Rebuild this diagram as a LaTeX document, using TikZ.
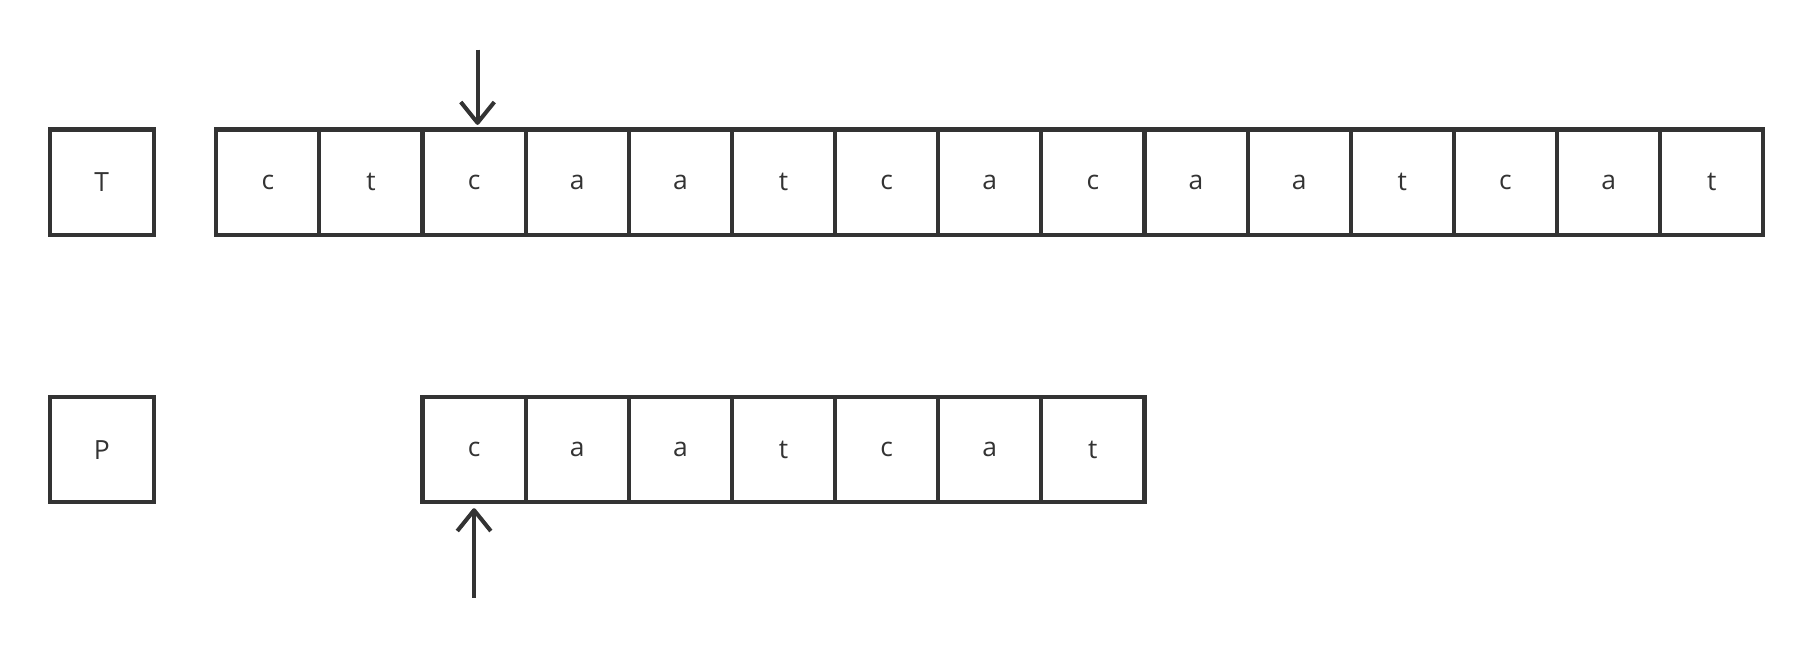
\documentclass[tikz,border=0pt]{standalone}
\usepackage{fontspec}
\setmainfont{Open Sans}
\usepackage{xcolor}
\usetikzlibrary{arrows.meta}
\definecolor{ink}{HTML}{333333}

\begin{document}
\begin{tikzpicture}[
	cell/.style={draw=ink, text=ink, line width=2pt, outer sep=0pt, minimum width=1.784cm, minimum height=1.82cm, inner sep=0pt, font=\fontsize{13}{15}\selectfont},
	label/.style={cell, minimum width=1.8cm},
	pointer/.style={draw=ink, line width=2pt, -{Straight Barb[length=0.36cm, width=0.58cm, line join=round]}}
	]
	\useasboundingbox (0,0) rectangle (31.36,11.22);
	
	\node[label] (labT) at (1.76,8.07) {T};
	\node[cell] (t1) at (4.632,8.07) {c};
	\node[cell] (t2) at (6.416,8.07) {t};
	\node[cell] (t3) at (8.200,8.07) {c};
	\node[cell] (t4) at (9.984,8.07) {a};
	\node[cell] (t5) at (11.768,8.07) {a};
	\node[cell] (t6) at (13.552,8.07) {t};
	\node[cell] (t7) at (15.336,8.07) {c};
	\node[cell] (t8) at (17.120,8.07) {a};
	\node[cell] (t9) at (18.904,8.07) {c};
	\node[cell] (t10) at (20.688,8.07) {a};
	\node[cell] (t11) at (22.472,8.07) {a};
	\node[cell] (t12) at (24.256,8.07) {t};
	\node[cell] (t13) at (26.040,8.07) {c};
	\node[cell] (t14) at (27.824,8.07) {a};
	\node[cell] (t15) at (29.608,8.07) {t};
	
	\node[label] (labP) at (1.76,3.44) {P};
	\node[cell] (p1) at (8.200,3.44) {c};
	\node[cell] (p2) at (9.984,3.44) {a};
	\node[cell] (p3) at (11.768,3.44) {a};
	\node[cell] (p4) at (13.552,3.44) {t};
	\node[cell] (p5) at (15.336,3.44) {c};
	\node[cell] (p6) at (17.120,3.44) {a};
	\node[cell] (p7) at (18.904,3.44) {t};
	
	\coordinate (ptrT) at (8.26,10.36);
	\coordinate (ptrP) at (8.20,0.88);
	\draw[pointer, shorten >=0.08cm] (ptrT) -- (ptrT |- t3.north);
	\draw[pointer, shorten >=0.1cm] (ptrP) -- (ptrP |- p1.south);
\end{tikzpicture}
\end{document}
